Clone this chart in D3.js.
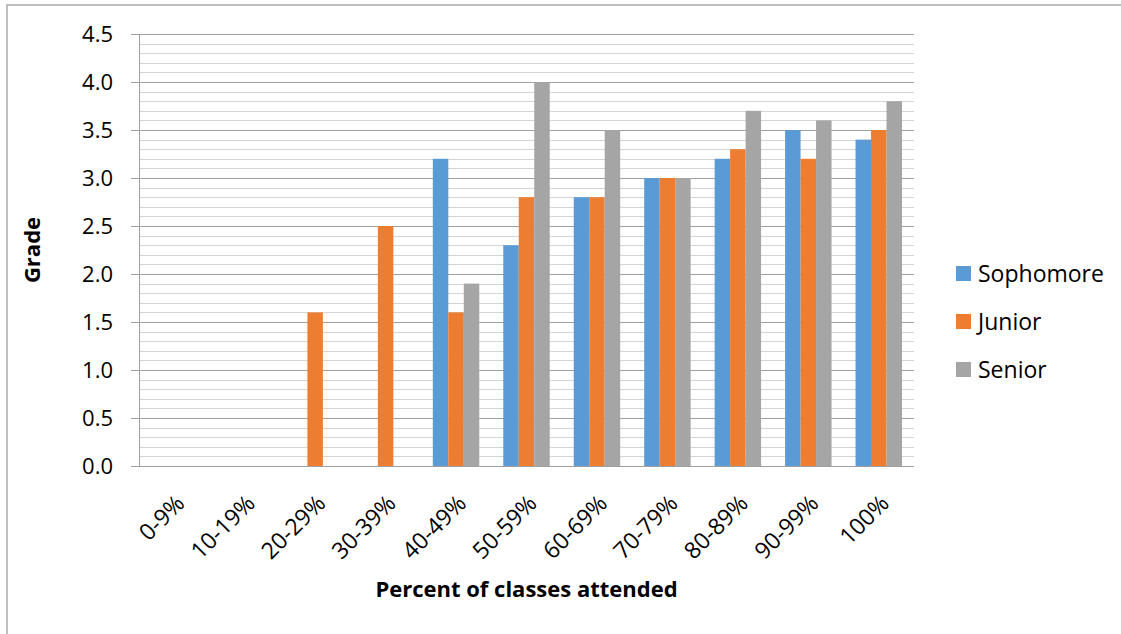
<!DOCTYPE html>
<html>
<head>
<meta charset="utf-8">
<script src="https://cdnjs.cloudflare.com/ajax/libs/d3/7.8.5/d3.min.js"></script>
<style>
    body { margin: 0; background: #fff; }
    text { font-family: "Open Sans", sans-serif; fill: #000; }
</style>
</head>
<body>
<div id="chart"></div>
<script>
var categories = ["0-9%", "10-19%", "20-29%", "30-39%", "40-49%", "50-59%",
    "60-69%", "70-79%", "80-89%", "90-99%", "100%"];
var seriesNames = ["Sophomore", "Junior", "Senior"];
var sophomore = [null, null, null, null, 3.2, 2.3, 2.8, 3.0, 3.2, 3.5, 3.4];
var junior = [null, null, 1.6, 2.5, 1.6, 2.8, 2.8, 3.0, 3.3, 3.2, 3.5];
var senior = [null, null, null, null, 1.9, 4.0, 3.5, 3.0, 3.7, 3.6, 3.8];
var yTicks = [0, 0.5, 1.0, 1.5, 2.0, 2.5, 3.0, 3.5, 4.0, 4.5];
var colors = ["#5b9bd5", "#ed7d31", "#a5a5a5"];

function drawChart(element) {
    var width = 1121, height = 634;
    var left = 139, right = 914, top = 34, bottom = 466;

    var svg = d3.select(element)
        .append("svg")
        .attr("width", width)
        .attr("height", height);

    // outer frame
    svg.append("rect")
        .attr("x", 7).attr("y", 5)
        .attr("width", width).attr("height", height)
        .attr("fill", "none")
        .attr("stroke", "#b0b0b0")
        .attr("stroke-width", 1.6);

    var x0 = d3.scaleBand().domain(categories).range([left, right]);
    var x1 = d3.scaleBand().domain(seriesNames)
        .range([0, x0.bandwidth()])
        .paddingOuter(0.775);
    var y = d3.scaleLinear().domain([0, 4.5]).range([bottom, top]);

    // minor grid every 0.1
    var minor = d3.range(1, 45).map(function (i) { return i / 10; })
        .filter(function (v, i) { return (i + 1) % 5 !== 0; });
    svg.append("g").selectAll("line")
        .data(minor)
        .enter().append("line")
        .attr("x1", left).attr("x2", right)
        .attr("y1", function (d) { return Math.round(y(d)) + 0.5; })
        .attr("y2", function (d) { return Math.round(y(d)) + 0.5; })
        .attr("stroke", "#d4d4d4");

    // major grid + ticks
    svg.append("g").selectAll("line")
        .data(yTicks.slice(1))
        .enter().append("line")
        .attr("x1", left - 8).attr("x2", right)
        .attr("y1", function (d) { return Math.round(y(d)) + 0.5; })
        .attr("y2", function (d) { return Math.round(y(d)) + 0.5; })
        .attr("stroke", "#a0a0a0");

    var series = [sophomore, junior, senior];
    series.forEach(function (vals, s) {
        svg.append("g").selectAll("rect")
            .data(vals.map(function (v, i) { return { cat: categories[i], v: v }; })
                .filter(function (d) { return d.v !== null; }))
            .enter().append("rect")
            .attr("x", function (d) { return x0(d.cat) + x1(seriesNames[s]); })
            .attr("width", x1.bandwidth())
            .attr("y", function (d) { return y(d.v); })
            .attr("height", function (d) { return y(0) - y(d.v); })
            .attr("fill", colors[s]);
    });

    // axes lines
    svg.append("line")
        .attr("x1", left + 0.5).attr("x2", left + 0.5)
        .attr("y1", top).attr("y2", bottom)
        .attr("stroke", "#a0a0a0");
    svg.append("line")
        .attr("x1", left - 8).attr("x2", right)
        .attr("y1", bottom + 0.5).attr("y2", bottom + 0.5)
        .attr("stroke", "#a0a0a0");

    // y tick labels
    svg.append("g").selectAll("text")
        .data(yTicks)
        .enter().append("text")
        .attr("x", 113)
        .attr("y", function (d) { return y(d); })
        .attr("dy", "0.35em")
        .attr("text-anchor", "end")
        .attr("font-size", 22)
        .text(function (d) { return d.toFixed(1); });

    // x tick labels, rotated
    svg.append("g").selectAll("text")
        .data(categories)
        .enter().append("text")
        .attr("transform", function (d) {
            var cx = x0(d) + x0.bandwidth() / 2;
            return "translate(" + (cx + 6) + "," + 499 + ") rotate(-45)";
        })
        .attr("dy", "0.35em")
        .attr("text-anchor", "end")
        .attr("font-size", 23)
        .text(function (d) { return d; });

    // axis titles
    svg.append("text")
        .attr("x", (left + right) / 2)
        .attr("y", 597)
        .attr("text-anchor", "middle")
        .attr("font-size", 22)
        .attr("font-weight", "bold")
        .text("Percent of classes attended");

    svg.append("text")
        .attr("transform", "translate(40," + (top + bottom) / 2 + ") rotate(-90)")
        .attr("text-anchor", "middle")
        .attr("font-size", 22)
        .attr("font-weight", "bold")
        .text("Grade");

    // legend
    var legend = svg.append("g").selectAll("g")
        .data(seriesNames)
        .enter().append("g")
        .attr("transform", function (d, i) {
            return "translate(956," + (273.5 + i * 48) + ")";
        });
    legend.append("rect")
        .attr("x", 0).attr("y", -7.5)
        .attr("width", 15).attr("height", 15)
        .attr("fill", function (d, i) { return colors[i]; });
    legend.append("text")
        .attr("x", 22)
        .attr("dy", "0.35em")
        .attr("font-size", 23)
        .text(function (d) { return d; });
}

drawChart(document.getElementById("chart"));
</script>
</body>
</html>
